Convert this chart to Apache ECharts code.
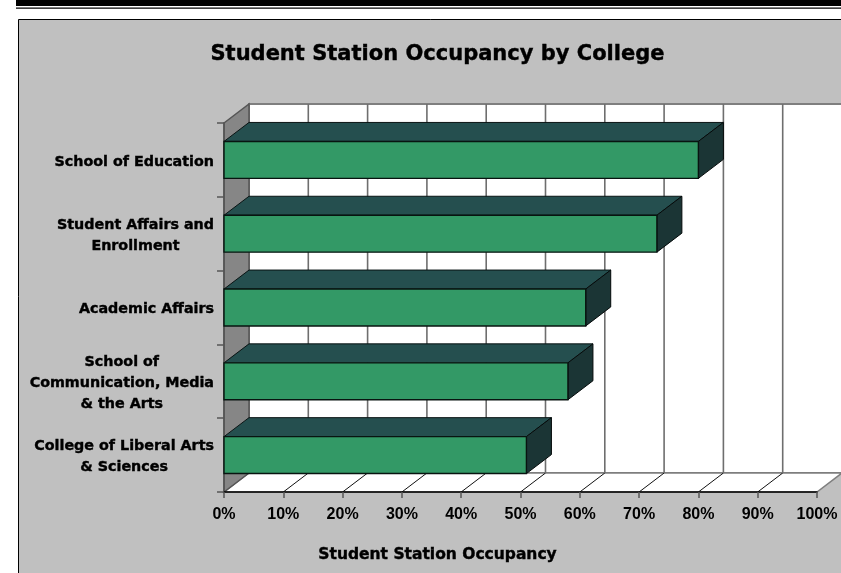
<!DOCTYPE html>
<html>
<head>
<meta charset="utf-8">
<style>html,body{margin:0;padding:0;background:#fff}#c{width:841px;height:573px}</style>
<script src="https://cdn.jsdelivr.net/npm/echarts@6/dist/echarts.min.js"></script>
</head>
<body>
<div id="c"></div>
<script>
// Student station occupancy, percent of stations, listed top to bottom
const colleges = [
  'School of Education',
  'Student Affairs and\nEnrollment',
  'Academic Affairs',
  'School of\nCommunication, Media\n& the Arts',
  'College of Liberal Arts\n& Sciences'
];
const occupancy = [80, 73, 61, 58, 51];
const scaleTicks = [0, 10, 20, 30, 40, 50, 60, 70, 80, 90, 100];

const chartTitle = 'Student Station Occupancy by College';
const axisTitle = 'Student Station Occupancy';

// Oblique projection of the box: how far the back plane shifts from the front
const DX = 25, DY = 19;
const labelFont = '"DejaVu Sans", sans-serif';
// A thin outline in the text colour gives the heavy bold weight
const heavy = { textBorderColor: '#000', textBorderWidth: 0.4 };

const chart = echarts.init(document.getElementById('c'));

function poly(points, fill, stroke, width) {
  return { type: 'polygon', shape: { points }, style: { fill, stroke, lineWidth: width || 1 } };
}
function seg(x1, y1, x2, y2, stroke, width) {
  return { type: 'line', shape: { x1, y1, x2, y2 }, style: { stroke, lineWidth: width || 1 } };
}

// Back wall, side wall and floor, taken from the grid rectangle
function renderWalls(params) {
  const r = params.coordSys;
  const L = r.x, R = r.x + r.width, T = r.y, B = r.y + r.height;
  return { type: 'group', children: [
    poly([[L + DX, T - DY], [R + DX, T - DY], [R + DX, B - DY], [L + DX, B - DY]], '#ffffff', '#7f7f7f', 2),
    poly([[L, B], [R, B], [R + DX, B - DY], [L + DX, B - DY]], '#ffffff', '#7f7f7f', 1.5),
    poly([[L, T], [L + DX, T - DY], [L + DX, B - DY], [L, B]], '#868686', '#555555', 1.5)
  ] };
}

// One gridline per scale tick: up the back wall and across the floor
function renderGrid(params, api) {
  const v = api.value(0);
  const r = params.coordSys;
  const x = api.coord([v, 0])[0];
  const B = r.y + r.height, T = r.y;
  const kids = [];
  if (v > 0 && v < 100) {
    kids.push(seg(x, B, x + DX, B - DY, '#111111', 1));
  }
  if (v > 0) {
    kids.push(seg(x + DX, T - DY, x + DX, B - DY, '#6e6e6e', 1.6));
  }
  return { type: 'group', children: kids };
}

// A bar as a box: front, top and end faces
function renderBar(params, api) {
  const end = api.coord([api.value(0), api.value(1)]);
  const start = api.coord([0, api.value(1)]);
  const h = api.size([0, 1])[1] * 0.5;
  const x0 = start[0], x1 = end[0], y0 = end[1] - h / 2, y1 = end[1] + h / 2;
  return { type: 'group', children: [
    poly([[x0, y0], [x0 + DX, y0 - DY], [x1 + DX, y0 - DY], [x1, y0]], '#254F4F', '#0a1414'),
    poly([[x1, y0], [x1 + DX, y0 - DY], [x1 + DX, y1 - DY], [x1, y1]], '#1B3535', '#050a0a'),
    poly([[x0, y0], [x1, y0], [x1, y1], [x0, y1]], '#339966', '#081410', 1.4)
  ] };
}

chart.setOption({
  animation: false,
  backgroundColor: '#ffffff',
  title: [
    { text: chartTitle, left: 437.5, top: 44, padding: 0, textAlign: 'center',
      textStyle: { fontFamily: labelFont, fontWeight: 'bold', fontSize: 21, color: '#000', ...heavy } },
    { text: axisTitle, left: 437.5, top: 547, padding: 0, textAlign: 'center',
      textStyle: { fontFamily: labelFont, fontWeight: 'bold', fontSize: 15.5, color: '#000', ...heavy } }
  ],
  grid: { left: 224, top: 123, width: 593, height: 369, containLabel: false },
  xAxis: {
    type: 'value', min: 0, max: 100, interval: 10, z: 2,
    axisLine: { show: true, lineStyle: { color: '#000', width: 1.5 } },
    axisTick: { show: true, length: 6, lineStyle: { color: '#555', width: 1.5 } },
    splitLine: { show: false },
    axisLabel: {
      formatter: '{value}%', margin: 15, color: '#000', showMinLabel: true, showMaxLabel: true,
      fontFamily: '"Liberation Sans Narrow", "Liberation Sans", sans-serif', fontWeight: 'bold', fontSize: 16
    }
  },
  yAxis: {
    type: 'category', data: colleges, inverse: true, z: 2,
    axisLine: { show: true, lineStyle: { color: '#555', width: 1.5 } },
    axisTick: { show: true, length: 7, alignWithLabel: false, lineStyle: { color: '#555', width: 1.5 } },
    splitLine: { show: false },
    axisLabel: {
      margin: 10, align: 'right', interval: 0, padding: [4, 0, 0, 0],
      formatter: (s) => s.split('\n').map(l => '{c|' + l + '}').join('\n'),
      rich: { c: { align: 'center', fontFamily: labelFont, fontWeight: 'bold', fontSize: 14.3, lineHeight: 21.3, color: '#000', ...heavy } }
    }
  },
  series: [
    { type: 'custom', z: 1, silent: true, renderItem: renderWalls, data: [[0, 0]], encode: { x: 0, y: 1 } },
    { type: 'custom', z: 1, silent: true, renderItem: renderGrid,
      data: scaleTicks.map(t => [t, 0]), encode: { x: 0, y: 1 } },
    { type: 'custom', z: 3, silent: true, renderItem: renderBar,
      data: occupancy.map((v, i) => [v, i]), encode: { x: 0, y: 1 } }
  ],
  graphic: [
    // Page rules above the chart panel, and the panel itself
    { type: 'rect', z: -10, shape: { x: 16, y: 0, width: 825, height: 6 }, style: { fill: '#000' } },
    { type: 'rect', z: -10, shape: { x: 16, y: 7.5, width: 825, height: 1.2 }, style: { fill: '#000' } },
    { type: 'rect', z: -10, shape: { x: 18.5, y: 19.5, width: 840, height: 570 },
      style: { fill: '#C0C0C0', stroke: '#000', lineWidth: 1 } }
  ]
});
</script>
</body>
</html>
